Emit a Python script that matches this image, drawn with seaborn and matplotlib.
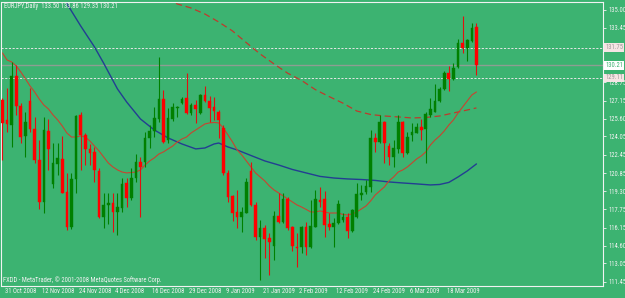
import numpy as np
import matplotlib
matplotlib.use("Agg")
import matplotlib.pyplot as plt
import matplotlib.transforms as mtransforms
import matplotlib.font_manager as fm
from matplotlib.textpath import TextPath
import seaborn as sns

# ---------------- data ----------------
title_text = "EURJPY,Daily  133.50 133.86 129.35 130.21"
footer_text = "FXDD - MetaTrader, \u00a9 2001-2008 MetaQuotes Software Corp."

opens = [127.21, 125.48, 125.04, 129.29, 126.69, 124.09, 127.12, 124.70, 122.01, 118.41,
         124.55, 119.91, 121.67, 122.07, 119.21, 116.24, 120.37, 125.91, 124.18, 122.97,
         122.68, 121.06, 117.11, 118.12, 118.32, 117.54, 117.83, 120.05, 118.69, 120.43,
         121.81, 121.81, 123.89, 124.52, 125.53, 127.27, 123.75, 125.53, 126.49, 126.92,
         127.41, 126.05, 126.78, 126.05, 127.64, 127.15, 126.57, 126.20, 124.76, 120.86,
         118.90, 117.48, 117.05, 117.45, 121.06, 118.12, 115.38, 116.16, 115.23, 114.60,
         117.17, 116.67, 118.61, 116.24, 114.51, 114.51, 116.24, 114.45, 116.24, 118.55,
         118.61, 116.47, 116.24, 116.59, 116.82, 117.11, 115.90, 117.11, 118.98, 119.27,
         119.70, 123.95, 123.60, 125.27, 123.25, 122.30, 122.97, 125.27, 122.65, 124.18,
         124.38, 124.90, 124.67, 125.91, 126.20, 127.15, 128.16, 129.52, 129.03, 130.09,
         132.11, 131.68, 132.35, 133.50]
highs = [127.35, 128.22, 130.50, 130.24, 126.92, 126.20, 128.28, 125.77, 123.75, 125.77,
         125.53, 123.46, 123.46, 124.12, 120.86, 120.86, 125.91, 126.20, 124.32, 123.40,
         123.17, 121.29, 119.13, 119.13, 119.13, 119.13, 120.43, 120.43, 121.29, 122.53,
         122.30, 124.47, 125.04, 126.63, 130.96, 128.07, 126.49, 126.92, 126.69, 127.50,
         129.57, 126.98, 127.21, 127.70, 128.42, 127.55, 127.50, 126.34, 125.04, 121.15,
         118.98, 119.42, 117.97, 120.43, 121.81, 118.41, 116.82, 116.39, 115.66, 117.63,
         119.19, 119.13, 118.84, 116.30, 115.66, 116.30, 116.67, 118.55, 119.42, 119.70,
         119.36, 117.40, 116.96, 118.55, 117.40, 117.45, 117.74, 120.05, 119.85, 120.28,
         124.61, 124.32, 125.91, 125.39, 123.46, 123.75, 125.91, 125.39, 124.47, 125.25,
         125.25, 125.53, 126.20, 127.41, 128.59, 128.31, 129.72, 130.15, 130.38, 132.46,
         134.48, 132.46, 133.85, 133.86]
lows = [122.01, 124.47, 123.17, 125.91, 123.46, 122.30, 124.47, 121.72, 117.74, 117.40,
        121.15, 119.56, 120.71, 119.13, 115.95, 116.01, 119.19, 121.15, 121.58, 121.58,
        120.14, 116.96, 116.16, 116.47, 115.81, 115.52, 117.54, 117.97, 118.55, 120.14,
        117.11, 121.44, 123.02, 124.03, 125.33, 123.46, 123.51, 125.42, 125.77, 126.86,
        126.00, 125.91, 125.19, 126.00, 127.06, 125.33, 125.48, 123.89, 120.71, 118.41,
        116.76, 116.16, 115.81, 117.40, 118.03, 115.09, 111.62, 113.50, 112.06, 113.36,
        116.59, 116.59, 115.95, 114.16, 112.78, 113.93, 113.79, 114.37, 116.18, 117.97,
        115.38, 115.95, 114.51, 116.47, 116.67, 115.23, 115.81, 116.96, 118.55, 119.07,
        119.27, 122.73, 123.46, 121.72, 121.58, 121.44, 122.59, 122.30, 122.53, 123.69,
        124.32, 123.75, 121.78, 125.77, 126.14, 127.06, 128.07, 127.99, 128.94, 129.95,
        131.31, 130.61, 132.26, 129.35]
closes = [125.19, 125.13, 129.29, 126.69, 124.03, 125.33, 124.67, 122.01, 118.41, 124.61,
          122.94, 121.72, 122.16, 119.19, 116.24, 120.37, 125.85, 124.18, 122.94, 122.65,
          121.15, 117.11, 118.12, 118.32, 117.54, 117.92, 119.91, 118.75, 120.43, 121.81,
          121.44, 123.89, 124.52, 125.62, 127.27, 123.60, 125.62, 126.57, 126.63, 127.30,
          126.05, 126.78, 126.43, 127.64, 127.12, 126.54, 126.26, 125.48, 120.86, 118.84,
          117.40, 117.05, 117.54, 120.08, 118.12, 115.38, 116.16, 115.17, 114.94, 117.17,
          116.67, 118.61, 116.16, 114.60, 114.42, 116.24, 114.45, 116.30, 118.61, 118.41,
          116.39, 116.24, 116.59, 118.20, 117.11, 115.90, 117.68, 119.07, 119.19, 119.76,
          123.89, 123.60, 125.27, 123.46, 122.30, 123.02, 125.27, 122.65, 123.98, 124.41,
          124.90, 124.61, 126.00, 126.43, 127.15, 128.16, 129.52, 129.03, 130.01, 132.11,
          131.68, 132.40, 133.47, 130.21]

# slow moving average (blue), sampled at bar numbers
blue_bars = [12, 13, 15, 17, 20, 22, 25, 27, 30, 33, 36, 39, 42, 44, 46, 47, 49, 51, 54, 57,
             60, 63, 66, 69, 72, 75, 78, 81, 84, 87, 90, 93, 95, 97, 99, 101, 103]
blue_vals = [136.90, 136.21, 134.91, 133.62, 131.80, 130.39, 128.16, 127.03, 125.56, 124.61,
             123.92, 123.40, 122.97, 123.05, 123.40, 123.48, 123.14, 122.88, 122.40, 121.93,
             121.58, 121.19, 120.89, 120.59, 120.45, 120.37, 120.32, 120.24, 120.11, 120.02,
             119.94, 119.85, 119.89, 120.07, 120.54, 121.06, 121.67]

# dashed moving average (red dashed)
dash_bars = [35, 38, 41, 44, 47, 50, 53, 56, 59, 62, 65, 68, 71, 74, 77, 80, 83, 86, 89, 92,
             95, 98, 101, 103]
dash_vals = [136.10, 135.52, 135.17, 134.65, 133.96, 133.18, 132.17, 131.19, 130.33, 129.52,
             128.90, 128.10, 127.50, 126.93, 126.25, 125.95, 125.82, 125.74, 125.65, 125.69,
             125.82, 126.08, 126.34, 126.52]

# fast moving average (red solid), one value per bar
fast_vals = [131.28, 130.67, 130.50, 130.15, 129.63, 129.03, 128.42, 127.90, 127.29, 126.77,
             126.43, 125.91, 125.48, 124.96, 124.35, 124.00, 124.00, 124.09, 124.00, 123.66,
             123.22, 122.79, 122.27, 121.75, 121.41, 121.15, 120.97, 120.89, 120.93, 120.97,
             121.15, 121.58, 121.93, 122.19, 122.53, 122.71, 122.97, 123.22, 123.57, 123.83,
             124.00, 124.35, 124.61, 124.87, 125.13, 125.22, 125.26, 125.22, 124.78, 124.18,
             123.57, 122.88, 122.45, 121.93, 121.41, 120.89, 120.54, 120.20, 119.76, 119.42,
             119.16, 118.90, 118.64, 118.38, 118.12, 117.94, 117.73, 117.51, 117.51, 117.60,
             117.51, 117.42, 117.42, 117.42, 117.29, 117.25, 117.34, 117.51, 117.77, 118.03,
             118.46, 118.98, 119.33, 119.68, 120.20, 120.54, 120.97, 121.15, 121.41, 121.75,
             122.10, 122.36, 122.71, 123.31, 123.74, 124.09, 124.52, 125.04, 125.48, 126.08,
             126.60, 127.12, 127.64, 127.90]

date_labels = ["31 Oct 2008", "12 Nov 2008", "24 Nov 2008", "4 Dec 2008", "16 Dec 2008",
               "29 Dec 2008", "9 Jan 2009", "21 Jan 2009", "2 Feb 2009", "12 Feb 2009",
               "24 Feb 2009", "6 Mar 2009", "18 Mar 2009"]
date_bars = [0, 8, 16, 24, 32, 40, 48, 56, 64, 72, 80, 88, 96]

price_ticks = [135.00, 133.45, 128.75, 127.15, 125.60, 124.05, 122.45, 120.85, 119.30,
               117.75, 116.15, 114.60, 113.05, 111.45]
level_prices = [131.75, 129.11]
bid_price = 130.21

# ---------------- font: pick a narrow face, size it to the reference ----------------
avail = {}
for f in fm.fontManager.ttflist:
    avail.setdefault(f.name, set()).add(str(f.stretch))

def has_condensed(name):
    for s in avail.get(name, set()):
        if "condensed" in s or (s.isdigit() and int(s) < 500):
            return True
    return False

fam, stretch = None, "normal"
for n in ["Liberation Sans Narrow", "Roboto Condensed", "Open Sans Condensed",
          "Noto Sans Condensed", "DejaVu Sans Condensed"]:
    if n in avail:
        fam = n
        break
if fam is None:
    for n in ["DejaVu Sans", "Noto Sans", "Open Sans", "Roboto"]:
        if has_condensed(n):
            fam, stretch = n, "condensed"
            break
if fam is None:
    fam = "Liberation Sans"

fp = fm.FontProperties(family=fam, stretch=stretch)
w10 = TextPath((0, 0), "135.00", size=10, prop=fp).get_extents().width
FS = 10 * (17.0 * 72 / 100) / w10

# ---------------- style ----------------
BG = "#3CB371"
FG = "#F2F2F2"
sns.set_theme(style="white")
plt.rcParams["font.family"] = [fam, "DejaVu Sans"]
plt.rcParams["font.stretch"] = stretch
plt.rcParams["axes.unicode_minus"] = False

W, H = 625, 298
fig = plt.figure(figsize=(W / 100, H / 100), dpi=100, facecolor=BG)
ax = fig.add_axes([1.5 / W, 1 - 286 / H, (603 - 1.5) / W, (286 - 2) / H])
ax.set_facecolor(BG)

o = np.array(opens); hi = np.array(highs); lo = np.array(lows); c = np.array(closes)
x = np.arange(len(o))
up = c >= o
body_cols = np.where(up, "#008000", "#FF0000")
wick_cols = np.where(up, "#008000", "#E01010")

ax.vlines(x, lo, hi, colors=wick_cols, linewidth=0.8, zorder=3)
ax.bar(x, np.maximum(np.abs(c - o), 0.05), bottom=np.minimum(o, c), width=0.58,
       color=body_cols, edgecolor=body_cols, linewidth=0.3, zorder=4)

# moving averages
sns.lineplot(x=blue_bars, y=blue_vals, ax=ax, color="#233E92", linewidth=1.0, zorder=2)
sns.lineplot(x=dash_bars, y=dash_vals, ax=ax, color="#BE3A2C", linewidth=0.9,
             linestyle=(0, (5, 3)), zorder=2)
sns.lineplot(x=np.arange(len(fast_vals)), y=fast_vals, ax=ax, color="#C8442F",
             linewidth=0.8, zorder=2)

# horizontal levels
for lv in level_prices:
    ax.axhline(lv, color="#E6E6E6", linewidth=0.7, linestyle=(0, (2.2, 1.6)), zorder=1)
ax.axhline(bid_price, color="#8D9E92", linewidth=1.0, zorder=1)

ax.set_xlim(-0.2, 130.5)
ax.set_ylim(111.10, 135.69)

for sp in ax.spines.values():
    sp.set_color(FG)
    sp.set_linewidth(0.8)

ax.yaxis.tick_right()
ax.set_yticks(price_ticks)
ax.set_yticklabels([f"{v:.2f}" for v in price_ticks])
ax.tick_params(axis="y", direction="out", length=2.5, width=0.6, color=FG,
               labelcolor=FG, labelsize=FS, pad=1.2)

ax.set_xticks(date_bars)
ax.set_xticklabels(date_labels, ha="left")
ax.tick_params(axis="x", direction="out", length=5, width=0.6, color=FG,
               labelcolor=FG, labelsize=FS, pad=-3.6)
offset = mtransforms.ScaledTranslation(1.8 / 72, 0, fig.dpi_scale_trans)
for lab in ax.get_xticklabels():
    lab.set_transform(lab.get_transform() + offset)
ax.set_xlabel("")
ax.set_ylabel("")
ax.grid(False)

# boxed price labels on the right scale
trans = mtransforms.blended_transform_factory(ax.transAxes, ax.transData)
for lv in level_prices:
    ax.text(1.004, lv, f"{lv:.2f}", transform=trans, ha="left", va="center", fontsize=FS,
            color="#A09A9A", clip_on=False,
            bbox=dict(boxstyle="square,pad=0.15", fc="#F6E4E4", ec="none"))
ax.text(1.004, bid_price, f"{bid_price:.2f}", transform=trans, ha="left", va="center",
        fontsize=FS, color=BG, clip_on=False,
        bbox=dict(boxstyle="square,pad=0.15", fc="#FFFFFF", ec="none"))

fig.text(4 / W, 1 - 6 / H, title_text, ha="left", va="center", fontsize=FS, color=FG)
fig.text(3 / W, 1 - 280 / H, footer_text, ha="left", va="center", fontsize=FS, color=FG)

fig.savefig("out.png", dpi=100, facecolor=BG)
